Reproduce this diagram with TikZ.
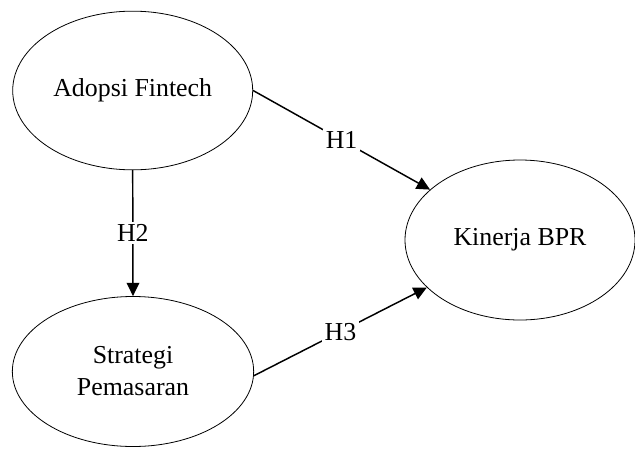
\documentclass[tikz,border=0pt]{standalone}
\usepackage{fontspec}
\setmainfont{Liberation Serif}
\usetikzlibrary{shapes.geometric, arrows.meta, positioning}

\begin{document}
\begin{tikzpicture}[
  x=0.75pt, y=-0.75pt,
  font=\fontsize{19.4}{24}\selectfont,
  construct/.style={ellipse, draw, line width=0.6pt, inner sep=0pt, align=center},
  arrow/.style={-{Triangle[length=10pt, width=9.5pt]}, line width=1.1pt},
  hyp/.style={fill=white, inner sep=2pt}
]
\useasboundingbox (0,0) rectangle (635,457);

\node (adopsi) [construct, minimum width=180pt, minimum height=119pt] at (132.7,90.5) {Adopsi Fintech};
\node (strategi) [construct, minimum width=181pt, minimum height=112.5pt] at (133,371.5) {Strategi\\Pemasaran};
\node (kinerja) [construct, minimum width=172.5pt, minimum height=120pt] at (520,240) {Kinerja BPR};

\draw [arrow] (adopsi.east) -- node[hyp] {H1} (kinerja);
\draw [arrow] (adopsi.south) -- node[hyp] {H2} (strategi.north);
\draw [arrow] (strategi.-2) -- node[hyp] {H3} (kinerja);

\end{tikzpicture}
\end{document}
